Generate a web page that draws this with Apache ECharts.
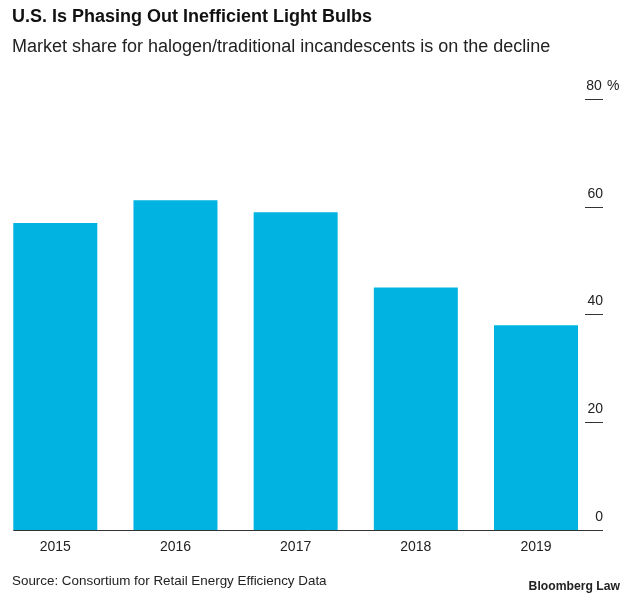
<!DOCTYPE html>
<html>
<head>
<meta charset="utf-8">
<script src="https://cdn.jsdelivr.net/npm/echarts@6/dist/echarts.min.js"></script>
<style>
html,body{margin:0;padding:0;background:#fff;}
#c{width:633px;height:601px;}
</style>
</head>
<body>
<div id="c"></div>
<script>
const categories = ['2015', '2016', '2017', '2018', '2019'];
const shareValues = [57.0, 61.2, 59.0, 45.0, 38.0];
const yTicks = [0, 20, 40, 60, 80];

const FONT = '"Liberation Sans", Arial, sans-serif';
const chart = echarts.init(document.getElementById('c'), null, {renderer: 'canvas'});

// category centres sit on grid edges (boundaryGap false)
const gridLeft = 55.3, gridRight = 97, gridTop = 99, gridBottom = 71;
const barW = 84;
const axisX = 585;           // where the right-hand ticks start
const tickLen = 18;

chart.setOption({
  backgroundColor: '#ffffff',
  animation: false,
  title: [
    {text: 'U.S. Is Phasing Out Inefficient Light Bulbs', left: 7, top: 3,
     textStyle: {fontFamily: FONT, fontWeight: 'bold', fontSize: 18, color: '#111'}},
    {text: 'Market share for halogen/traditional incandescents is on the decline', left: 7, top: 33,
     textStyle: {fontFamily: FONT, fontWeight: 'normal', fontSize: 18, color: '#222'}},
    {text: 'Source: Consortium for Retail Energy Efficiency Data', left: 7, top: 570,
     textStyle: {fontFamily: FONT, fontWeight: 'normal', fontSize: 13.4, color: '#222'}},
    {text: 'Bloomberg Law', right: 8, top: 576,
     textStyle: {fontFamily: FONT, fontWeight: 'bold', fontSize: 12.2, color: '#222'}}
  ],
  grid: {left: gridLeft, right: gridRight, top: gridTop, bottom: gridBottom, containLabel: false},
  xAxis: {
    type: 'category',
    data: categories,
    boundaryGap: false,
    axisLine: {show: false},
    axisTick: {show: false},
    splitLine: {show: false},
    axisLabel: {fontFamily: FONT, fontSize: 14, color: '#222', margin: 10}
  },
  yAxis: {
    type: 'value',
    position: 'right',
    offset: 0,
    min: 0, max: 80, interval: 20,
    splitLine: {show: false},
    axisLine: {show: false},
    axisTick: {show: true, length: tickLen, lineStyle: {color: '#333', width: 1}},
    axisLabel: {
      margin: 0,
      verticalAlign: 'bottom',
      padding: [0, 0, 6, 0],
      formatter: function (v) {
        return v === 80 ? '{n|' + v + '}{u| %}' : '{n|' + v + '}';
      },
      rich: {
        n: {fontFamily: FONT, fontSize: 14, color: '#222', width: 18, align: 'right'},
        u: {fontFamily: FONT, fontSize: 14, color: '#222'}
      }
    }
  },
  series: [{
    type: 'bar',
    data: shareValues,
    barWidth: barW,
    clip: false,
    itemStyle: {color: '#00b3e0'}
  }]
});

// place the right axis at axisX
const w = chart.getWidth();
chart.setOption({yAxis: {offset: axisX - (w - gridRight)}});

// baseline from first bar's left edge to the end of the axis ticks
const firstCenter = chart.convertToPixel({xAxisIndex: 0}, categories[0]);
const y0 = chart.convertToPixel({yAxisIndex: 0}, 0);
const x0 = firstCenter - barW / 2;
const x1 = axisX + tickLen;
chart.setOption({
  graphic: [{
    type: 'line', z: 10,
    shape: {x1: x0, y1: y0 + 0.5, x2: x1, y2: y0 + 0.5},
    style: {stroke: '#333', lineWidth: 1}
  }]
});
</script>
</body>
</html>
